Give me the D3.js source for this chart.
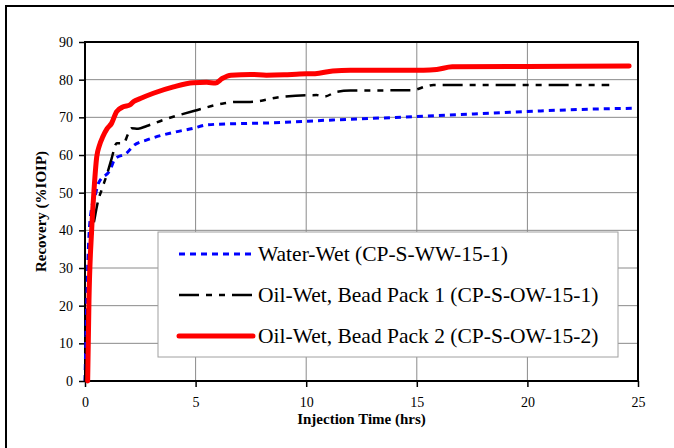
<!DOCTYPE html>
<html>
<head>
<meta charset="utf-8">
<script src="https://cdn.jsdelivr.net/npm/d3@7"></script>
<style>
  body { margin: 0; background: #fff; }
</style>
</head>
<body>
<div id="chart"></div>
<script>
// ---- data ----
const xTicks = [0, 5, 10, 15, 20, 25];
const yTicks = [0, 10, 20, 30, 40, 50, 60, 70, 80, 90];

const seriesNames = [
    "Water-Wet (CP-S-WW-15-1)",
    "Oil-Wet, Bead Pack 1 (CP-S-OW-15-1)",
    "Oil-Wet, Bead Pack 2 (CP-S-OW-15-2)"
];

// injection time (hrs), recovery (%IOIP)
const waterWet = [
    [0, 0], [0.08, 21.5], [0.15, 34.8], [0.3, 46], [0.45, 49], [0.6, 52.4],
    [1.13, 56], [1.36, 59], [1.88, 60.5], [2.2, 62.5], [2.8, 64], [4.0, 66],
    [4.9, 67.1], [5.5, 68], [6.7, 68.3], [8.2, 68.5], [11.2, 69.3], [15, 70.2],
    [18.3, 71.1], [20.6, 71.7], [22.4, 72.1], [24.8, 72.4]
];
const beadPack1 = [
    [0, 0], [0.1, 15], [0.2, 30], [0.3, 38], [0.45, 43.6], [0.6, 48],
    [0.75, 50.7], [1.0, 55], [1.2, 59], [1.43, 63.1], [1.73, 63.1], [1.96, 65.7],
    [2.1, 67.1], [2.4, 67], [2.79, 67.7], [3.54, 69.3], [5.05, 71.9], [6.25, 73.7],
    [6.86, 74.1], [7.46, 74.1], [8.96, 75.5], [10.47, 75.9], [10.8, 75.5],
    [11.4, 76.8], [12, 77.1], [14.8, 77.2], [15.45, 78.3], [15.75, 78.6], [23.7, 78.6]
];
const beadPack2 = [
    [0.12, 0], [0.18, 21.5], [0.3, 40], [0.4, 50], [0.53, 59.5], [0.65, 62.5],
    [0.81, 64.9], [1.0, 67], [1.2, 68.4], [1.43, 71.5], [1.73, 72.8], [2.03, 73.3],
    [2.2, 74.2], [2.5, 75], [3.09, 76.4], [4.0, 78.1], [4.9, 79.2], [5.5, 79.3],
    [5.9, 79.1], [6.2, 80.3], [6.6, 81.2], [7.5, 81.4], [8.2, 81.2], [9.0, 81.3],
    [9.7, 81.5], [10.4, 81.6], [11.2, 82.3], [12, 82.5], [15.3, 82.5], [15.9, 82.7],
    [16.6, 83.4], [20, 83.5], [24.6, 83.6]
];

// ---- layout ----
const W = 674, H = 448;
const margin = {top: 42, right: 36, bottom: 67, left: 85};
const width = W - margin.left - margin.right;
const height = H - margin.top - margin.bottom;
const FONT = '"Liberation Serif", "Times New Roman", serif';

const svg = d3.select("#chart").append("svg")
    .attr("width", W)
    .attr("height", H)
    .style("display", "block");

// outer frame (runs off the right and bottom edge)
svg.append("rect")
    .attr("x", 6).attr("y", 6)
    .attr("width", 700).attr("height", 470)
    .attr("fill", "none")
    .attr("stroke", "#000")
    .attr("stroke-width", 2);

const g = svg.append("g")
    .attr("transform", "translate(" + margin.left + "," + margin.top + ")");

const x = d3.scaleLinear().domain([0, 25]).range([0, width]);
const y = d3.scaleLinear().domain([0, 90]).range([height, 0]);

// grid
g.append("g").selectAll("line")
    .data(yTicks)
    .join("line")
    .attr("x1", 0).attr("x2", width)
    .attr("y1", d => y(d)).attr("y2", d => y(d))
    .attr("stroke", "#8a8a8a").attr("stroke-width", 1);
g.append("g").selectAll("line")
    .data(xTicks)
    .join("line")
    .attr("y1", 0).attr("y2", height)
    .attr("x1", d => x(d)).attr("x2", d => x(d))
    .attr("stroke", "#8a8a8a").attr("stroke-width", 1);

// axes
const xAxis = g.append("g")
    .attr("transform", "translate(0," + height + ")")
    .call(d3.axisBottom(x).tickValues(xTicks).tickSize(6).tickPadding(10).tickFormat(d3.format("d")));
const yAxis = g.append("g")
    .call(d3.axisLeft(y).tickValues(yTicks).tickSize(6).tickPadding(6).tickFormat(d3.format("d")));

[xAxis, yAxis].forEach(a => {
    a.attr("font-family", null).attr("font-size", null);
    a.select(".domain").remove();
    a.selectAll("line").attr("stroke", "#000").attr("stroke-width", 1.5);
    a.selectAll("text")
        .attr("fill", "#000")
        .style("font-family", FONT)
        .style("font-size", "14px");
});

// plot border
g.append("rect")
    .attr("width", width).attr("height", height)
    .attr("fill", "none")
    .attr("stroke", "#000")
    .attr("stroke-width", 2);

// axis titles
svg.append("text")
    .attr("x", margin.left + width / 2)
    .attr("y", 424)
    .attr("text-anchor", "middle")
    .style("font-family", FONT)
    .style("font-weight", "bold")
    .style("font-size", "15px")
    .text("Injection Time (hrs)");

svg.append("text")
    .attr("transform", "translate(46," + (margin.top + height / 2) + ") rotate(-90)")
    .attr("text-anchor", "middle")
    .style("font-family", FONT)
    .style("font-weight", "bold")
    .style("font-size", "15px")
    .text("Recovery (%IOIP)");

// series
const styles = [
    {color: "#0000ff", width: 3, dash: "6,5"},
    {color: "#000000", width: 2.5, dash: "20,7,6,7,6,7"},
    {color: "#ff0000", width: 5, dash: null}
];
const allSeries = [waterWet, beadPack1, beadPack2];

const line = d3.line()
    .x(d => x(d[0]))
    .y(d => y(d[1]))
    .curve(d3.curveMonotoneX);

allSeries.forEach((s, i) => {
    g.append("path")
        .datum(s)
        .attr("fill", "none")
        .attr("stroke", styles[i].color)
        .attr("stroke-width", styles[i].width)
        .attr("stroke-dasharray", styles[i].dash)
        .attr("stroke-linejoin", "round")
        .attr("stroke-linecap", i == 2 ? "round" : "butt")
        .attr("d", line);
});

// legend
const legend = svg.append("g");
legend.append("rect")
    .attr("x", 158).attr("y", 232)
    .attr("width", 460).attr("height", 125)
    .attr("fill", "#fff")
    .attr("stroke", "#a0a0a0")
    .attr("stroke-width", 1);

seriesNames.forEach((name, i) => {
    const ly = 254 + i * 41;
    legend.append("line")
        .attr("x1", 179).attr("x2", 253)
        .attr("y1", ly).attr("y2", ly)
        .attr("stroke", styles[i].color)
        .attr("stroke-width", styles[i].width)
        .attr("stroke-dasharray", styles[i].dash)
        .attr("stroke-linecap", i == 2 ? "round" : "butt");
    legend.append("text")
        .attr("x", 258)
        .attr("y", ly + 6.5)
        .style("font-family", FONT)
        .style("font-size", "21.5px")
        .text(name);
});
</script>
</body>
</html>
